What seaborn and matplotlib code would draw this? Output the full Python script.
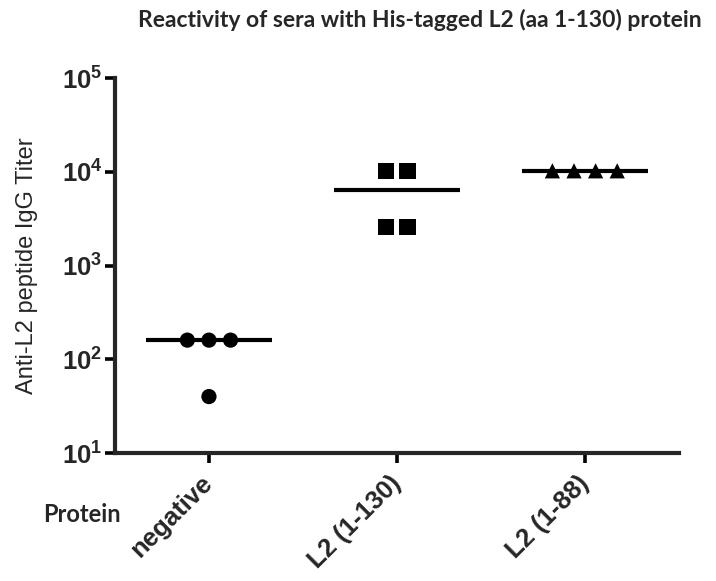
import numpy as np
import pandas as pd
import matplotlib
matplotlib.use("Agg")
import matplotlib.pyplot as plt
import seaborn as sns

sns.set_style("ticks")
plt.rcParams["font.family"] = ["Liberation Sans", "DejaVu Sans"]
plt.rcParams["mathtext.fontset"] = "custom"
plt.rcParams["mathtext.bf"] = "Liberation Sans:bold"
plt.rcParams["mathtext.rm"] = "Liberation Sans"

# === DATA ===
categories = ["negative", "L2 (1-130)", "L2 (1-88)"]
negative_titers = [160, 160, 160, 40]
l2_130_titers = [10240, 10240, 2560, 2560]
l2_88_titers = [10240, 10240, 10240, 10240]
group_markers = {"negative": "o", "L2 (1-130)": "s", "L2 (1-88)": "^"}
yticks = [1e1, 1e2, 1e3, 1e4, 1e5]

data = pd.DataFrame({
    "Protein": np.repeat(categories, 4),
    "Titer": negative_titers + l2_130_titers + l2_88_titers,
})

# spread identical values symmetrically around the category centre
spread = 0.115
data["pos"] = 0.0
for i, cat in enumerate(categories):
    for val, grp in data[data["Protein"] == cat].groupby("Titer"):
        n = len(grp)
        data.loc[grp.index, "pos"] = i + (np.arange(n) - (n - 1) / 2) * spread

medians = data.groupby("Protein", sort=False)["Titer"].median()

fig = plt.figure(figsize=(7.16, 5.81), dpi=100)
ax = fig.add_axes([0.1606, 0.2203, 0.7874, 0.6454])

for cat in categories:
    sub = data[data["Protein"] == cat]
    size = 140 if group_markers[cat] == "s" else 120
    sns.scatterplot(data=sub, x="pos", y="Titer", marker=group_markers[cat],
                    s=size, color="black", edgecolor="none", ax=ax, legend=False)

# median bars
ax.hlines(medians.values, np.arange(len(categories)) - 0.335,
          np.arange(len(categories)) + 0.335, color="black", lw=3, zorder=1)

ax.set_yscale("log")
ax.set_ylim(1e1, 1e5)
ax.set_yticks(yticks)
ax.yaxis.set_minor_locator(matplotlib.ticker.NullLocator())
ax.yaxis.set_major_formatter(matplotlib.ticker.FuncFormatter(
    lambda v, p: r"$\mathbf{10^{%d}}$" % round(np.log10(v))))
ax.set_xlim(-0.5, 2.5)
ax.set_xticks(range(len(categories)))
ax.set_xticklabels(categories)

for side in ["left", "bottom"]:
    ax.spines[side].set_linewidth(3)
sns.despine(ax=ax)

ax.tick_params(axis="both", which="major", length=7, width=2.6, color="black")
ax.tick_params(axis="y", labelsize=18.5, pad=2)
ax.tick_params(axis="x", labelsize=18.5, pad=12)
for lab in ax.get_xticklabels():
    lab.set_fontweight("bold")
    lab.set_rotation(45)
    lab.set_ha("right")
    lab.set_va("center")
    lab.set_rotation_mode("anchor")

ax.set_xlabel("")
ax.set_ylabel("Anti-L2 peptide IgG Titer", fontsize=17, labelpad=17)

fig.text(0.587, 0.965, "Reactivity of sera with His-tagged L2 (aa 1-130) protein",
         ha="center", va="center", fontsize=16.5, fontweight="bold", family=["Lato", "DejaVu Sans"])
fig.text(0.06, 0.114, "Protein", ha="left", va="center", fontsize=17,
         fontweight="bold", family=["Lato", "DejaVu Sans"])

fig.savefig("out.png", dpi=100)
